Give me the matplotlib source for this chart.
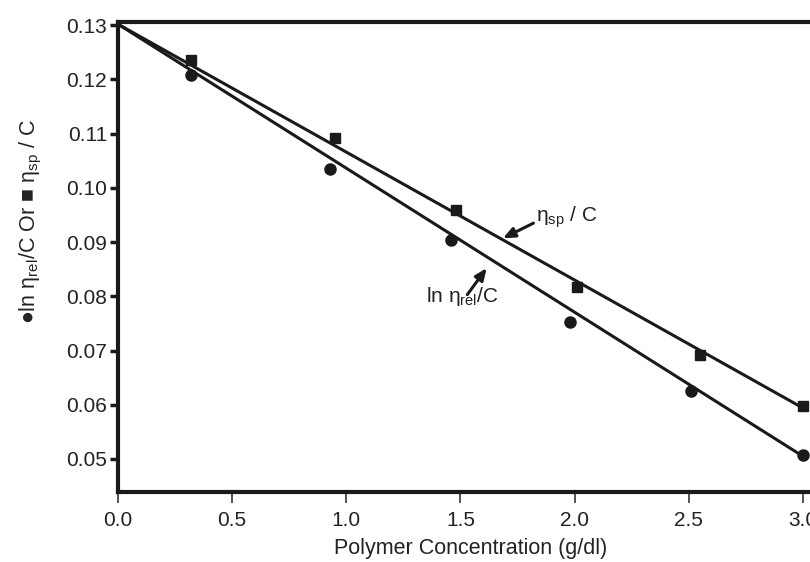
import matplotlib.pyplot as plt

plt.rcParams['font.family'] = ['Liberation Sans', 'DejaVu Sans']
plt.rcParams['mathtext.fontset'] = 'custom'
plt.rcParams['mathtext.rm'] = 'Liberation Sans'
plt.rcParams['mathtext.it'] = 'Liberation Sans:italic'

# lnηrel/C (circles)
conc_ln = [0.32, 0.93, 1.46, 1.98, 2.51, 3.0]
ln_rel = [0.1208, 0.1035, 0.0904, 0.0753, 0.0625, 0.0507]
# ηsp/C (squares)
conc_sp = [0.32, 0.95, 1.48, 2.01, 2.55, 3.0]
sp_c = [0.1235, 0.1092, 0.0959, 0.0817, 0.0692, 0.0598]

# fitted lines, both extrapolate to the same intercept
fit_x = [0.0, 3.0]
fit_ln = [0.1302, 0.0505]
fit_sp = [0.1302, 0.0594]

xticks = [0.0, 0.5, 1.0, 1.5, 2.0, 2.5, 3.0]
yticks = [0.05, 0.06, 0.07, 0.08, 0.09, 0.10, 0.11, 0.12, 0.13]

ink = '#1a1a1a'
txt = '#222222'

fig = plt.figure(figsize=(8.1, 5.62), dpi=100)
ax = fig.add_axes([118 / 810, 70 / 562, 694 / 810, 470 / 562])

ax.plot(fit_x, fit_ln, color=ink, lw=2.2, solid_capstyle='butt')
ax.plot(fit_x, fit_sp, color=ink, lw=2.2, solid_capstyle='butt')
ax.plot(conc_ln, ln_rel, 'o', color=ink, ms=8)
ax.plot(conc_sp, sp_c, 's', color=ink, ms=7.5)

ax.set_xlim(0, 3.04)
ax.set_ylim(0.0439, 0.1306)
ax.set_xticks(xticks)
ax.set_xticklabels(['%.1f' % v for v in xticks])
ax.set_yticks(yticks)
ax.set_yticklabels(['%.2f' % v for v in yticks])

for s in ['left', 'bottom', 'top']:
    ax.spines[s].set_linewidth(3)
    ax.spines[s].set_color(ink)
ax.spines['right'].set_visible(False)

ax.tick_params(axis='y', direction='out', length=6, width=2.5, color=ink,
               labelsize=15, labelcolor=txt, pad=2)
ax.tick_params(axis='x', direction='out', length=8, width=1.3, color='#444444',
               labelsize=15, labelcolor=txt, pad=6)

ax.set_xlabel('Polymer Concentration (g/dl)', fontsize=15.5, color=txt)
ax.xaxis.set_label_coords(0.508, -0.097)
ax.set_ylabel('●ln η$_{\\mathrm{rel}}$/C Or ■ η$_{\\mathrm{sp}}$ / C',
              fontsize=15.5, color=txt)
ax.yaxis.set_label_coords(-0.107, 0.575)

arrow = dict(arrowstyle='-|>,head_length=0.7,head_width=0.3',
             color=ink, lw=2.2, shrinkA=0, shrinkB=0)
# ηsp / C label and arrow
ax.annotate('', xy=(1.686, 0.0907), xytext=(1.82, 0.0935), arrowprops=arrow)
ax.text(1.83, 0.0945, 'η$_{\\mathrm{sp}}$ / C', fontsize=15, color=txt, va='center')
# lnηrel/C label and arrow
ax.annotate('', xy=(1.615, 0.0852), xytext=(1.53, 0.0803), arrowprops=arrow)
ax.text(1.35, 0.0800, 'ln η$_{\\mathrm{rel}}$/C', fontsize=15, color=txt, va='center')

fig.savefig('out.png', dpi=100)
